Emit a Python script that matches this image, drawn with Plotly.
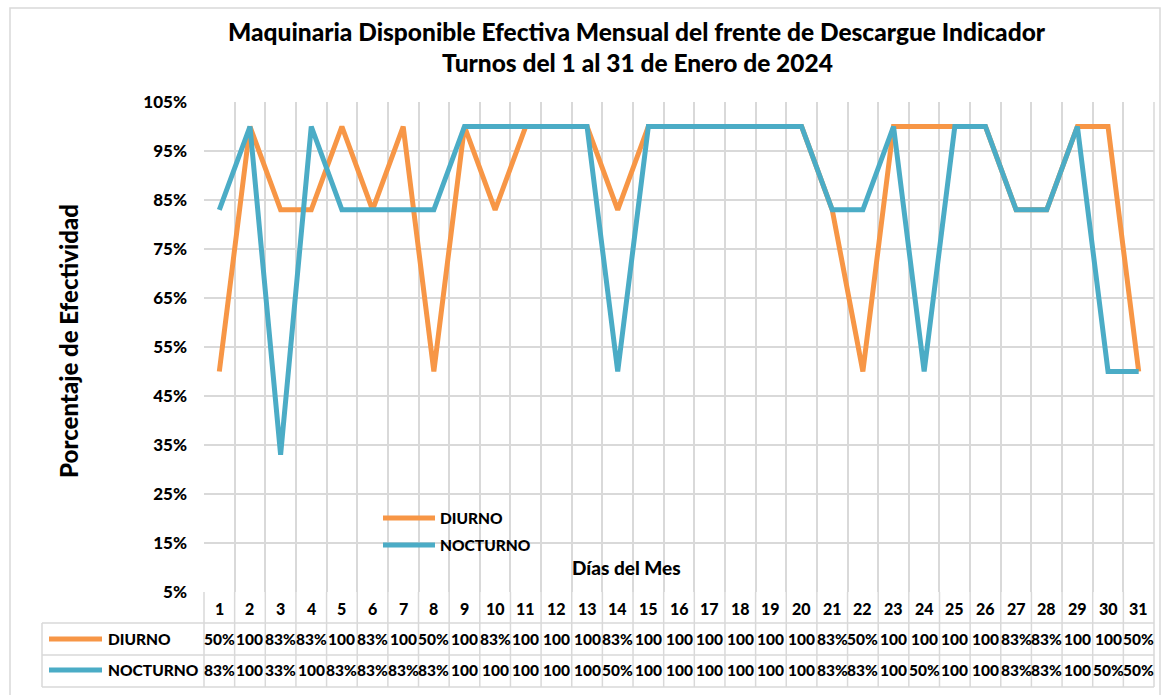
import plotly.graph_objects as go

# ---------------- data ----------------
days = [str(d) for d in range(1, 32)]
diurno = [0.50, 1.00, 0.83, 0.83, 1.00, 0.83, 1.00, 0.50, 1.00, 0.83,
          1.00, 1.00, 1.00, 0.83, 1.00, 1.00, 1.00, 1.00, 1.00, 1.00,
          0.83, 0.50, 1.00, 1.00, 1.00, 1.00, 0.83, 0.83, 1.00, 1.00, 0.50]
nocturno = [0.83, 1.00, 0.33, 1.00, 0.83, 0.83, 0.83, 0.83, 1.00, 1.00,
            1.00, 1.00, 1.00, 0.50, 1.00, 1.00, 1.00, 1.00, 1.00, 1.00,
            0.83, 0.83, 1.00, 0.50, 1.00, 1.00, 0.83, 0.83, 1.00, 0.50, 0.50]
series_names = ["DIURNO", "NOCTURNO"]
series_colors = ["#F79646", "#4BACC6"]
y_ticks = [0.05 + 0.1 * i for i in range(11)]
y_ticktext = [f"{round(v * 100)}%" for v in y_ticks]
title_lines = ["Maquinaria Disponible Efectiva Mensual del frente de Descargue Indicador",
               "Turnos del 1 al 31 de Enero de 2024"]

# ---------------- geometry helpers ----------------
W, H = 1163, 695
L, R, T, B = 204, 1154, 102, 592
FONT = "Lato"
GRID = "#D9D9D9"
WEIGHT = 900


def px2x(px):
    return (px - L) / (R - L)


def py2y(py):
    return (B - py) / (B - T)


def bold(size):
    return dict(family=FONT, size=size, color="black", weight=WEIGHT)


n = len(days)
xs = list(range(1, n + 1))

fig = go.Figure()
for name, vals, col in zip(series_names, [diurno, nocturno], series_colors):
    fig.add_trace(go.Scatter(x=xs, y=vals, mode="lines", name=name,
                             line=dict(color=col, width=5),
                             showlegend=False, hoverinfo="skip"))

shapes = []
annotations = []


def ann(x, y, text, font, xref="paper", xanchor="center", yanchor="middle", **kw):
    annotations.append(dict(x=x, y=y, xref=xref, yref="paper", text=text,
                            showarrow=False, xanchor=xanchor, yanchor=yanchor,
                            font=font, **kw))


# outer chart border
shapes.append(dict(type="rect", xref="paper", yref="paper",
                   x0=px2x(10), x1=px2x(1160), y0=py2y(696), y1=py2y(8),
                   line=dict(color=GRID, width=1.5), layer="below"))

# data table grid
for py in [623, 655, 687]:
    shapes.append(dict(type="line", xref="paper", yref="paper",
                       x0=px2x(42), x1=1, y0=py2y(py), y1=py2y(py),
                       line=dict(color=GRID, width=1.5)))
shapes.append(dict(type="line", xref="paper", yref="paper",
                   x0=px2x(42), x1=px2x(42), y0=py2y(623), y1=py2y(687),
                   line=dict(color=GRID, width=1.5)))
for i in range(n + 1):
    xp = i / n
    shapes.append(dict(type="line", xref="paper", yref="paper",
                       x0=xp, x1=xp, y0=0, y1=py2y(687),
                       line=dict(color=GRID, width=1.5)))

# day header labels
for d, xv in zip(days, xs):
    ann(xv, py2y(608), d, bold(16), xref="x")

# table rows
row_centers = [639, 670]
for name, vals, col, pyc in zip(series_names, [diurno, nocturno], series_colors, row_centers):
    shapes.append(dict(type="line", xref="paper", yref="paper",
                       x0=px2x(49), x1=px2x(102), y0=py2y(pyc), y1=py2y(pyc),
                       line=dict(color=col, width=5)))
    ann(px2x(106), py2y(pyc), name, bold(15.5), xanchor="left")
    for v, xv in zip(vals, xs):
        label = f"{round(v * 100)}%"[:3]
        ann(xv, py2y(pyc), label, bold(15.5), xref="x")

# in-plot legend
for name, col, pyc in zip(series_names, series_colors, [518, 545]):
    shapes.append(dict(type="line", xref="paper", yref="paper",
                       x0=px2x(383), x1=px2x(435), y0=py2y(pyc), y1=py2y(pyc),
                       line=dict(color=col, width=5)))
    ann(px2x(438), py2y(pyc), name, bold(15.5), xanchor="left")

# axis titles
ann(px2x(626), py2y(567), "Días del Mes", bold(19))
ann(px2x(68), py2y(341), "Porcentaje de Efectividad", bold(24), textangle=-90)
# chart title
for txt, pyc in zip(title_lines, [31, 63]):
    ann(px2x(637), py2y(pyc), txt, bold(24.5))

fig.update_layout(
    width=W, height=H,
    margin=dict(l=L, r=W - R, t=T, b=H - B, pad=0),
    paper_bgcolor="white", plot_bgcolor="white",
    showlegend=False,
    shapes=shapes, annotations=annotations,
    xaxis=dict(range=[0.5, n + 0.5], tickvals=[i + 0.5 for i in range(n + 1)],
               showticklabels=False, ticks="", showgrid=True, gridcolor=GRID,
               gridwidth=1.5, zeroline=False, showline=False, fixedrange=True),
    yaxis=dict(range=[0.05, 1.05], tickvals=y_ticks, ticktext=y_ticktext,
               ticks="", showgrid=True, gridcolor=GRID, gridwidth=1.5,
               zeroline=False, showline=False, ticklabelstandoff=16,
               tickfont=bold(17), fixedrange=True),
)
fig.add_shape(type="line", xref="paper", yref="paper", x0=1, x1=1, y0=0, y1=1,
              line=dict(color=GRID, width=1.5))

fig.write_html("out.html", config={"displayModeBar": False},
               post_script="document.body.style.margin='0px';")
